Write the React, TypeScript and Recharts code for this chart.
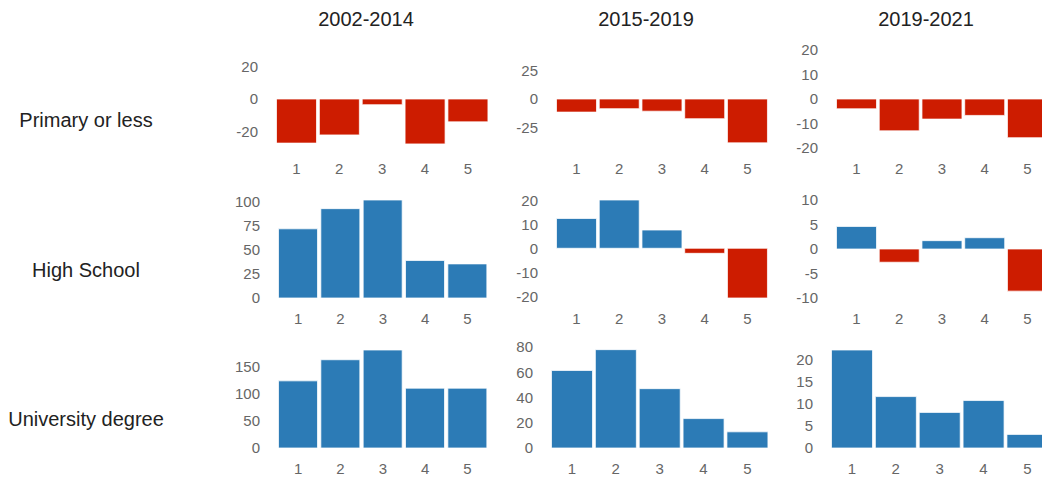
import React from 'react';
import { BarChart, Bar, XAxis, YAxis, Cell } from 'recharts';

// Categories and labels
const categories = ['1', '2', '3', '4', '5'];
const periods = ['2002-2014', '2015-2019', '2019-2021'];
const levels = ['Primary or less', 'High School', 'University degree'];

// Values per education level and period
const primary2002 = [-27, -22, -3.5, -27.5, -14];
const primary2015 = [-11.5, -8.5, -10.7, -17.3, -38.5];
const primary2019 = [-4, -13, -8.2, -6.7, -15.8];

const high2002 = [72, 93, 102, 39, 35.5];
const high2015 = [12.4, 20.1, 7.6, -2.1, -20.7];
const high2019 = [4.6, -2.7, 1.7, 2.3, -8.6];

const uni2002 = [124, 163, 181, 110.5, 110.5];
const uni2015 = [61.4, 77.9, 47, 23.3, 12.8];
const uni2019 = [22.3, 11.7, 8.1, 10.8, 3.1];

// Tick labels per panel
const ticksP2002 = [-20, 0, 20];
const ticksP2015 = [-25, 0, 25];
const ticksP2019 = [-20, -10, 0, 10, 20];
const ticksH2002 = [0, 25, 50, 75, 100];
const ticksH2015 = [-20, -10, 0, 10, 20];
const ticksH2019 = [-10, -5, 0, 5, 10];
const ticksU2002 = [0, 50, 100, 150];
const ticksU2015 = [0, 20, 40, 60, 80];
const ticksU2019 = [0, 5, 10, 15, 20];

const BLUE = '#2c7bb6';
const RED = '#cd1c00';
const FONT = '"Liberation Sans", Arial, Helvetica, sans-serif';

const AXIS_W = 60;
const TOP_PAD = 12;
const X_H = 30;
const RIGHT_EDGE = [489, 769, 1049];

type PanelProps = {
  values: number[];
  domain: [number, number];
  ticks: number[];
  col: number;
  left: number;
  top: number;
  bottom: number;
};

const Panel = ({ values, domain, ticks, col, left, top, bottom }: PanelProps) => {
  const data = categories.map((c, i) => ({ name: c, value: values[i] }));
  const plotW = RIGHT_EDGE[col] - left;
  const plotH = bottom - top;
  return (
    <div style={{ position: 'absolute', left: left - AXIS_W, top: top - TOP_PAD }}>
      <BarChart
        width={AXIS_W + plotW + 4}
        height={TOP_PAD + plotH + X_H}
        data={data}
        margin={{ top: TOP_PAD, right: 4, bottom: 0, left: 0 }}
        barCategoryGap={1.5}
      >
        <XAxis
          dataKey="name"
          axisLine={false}
          tickLine={false}
          tickSize={0}
          tickMargin={15}
          height={X_H}
          interval={0}
          tick={{ fill: '#666', fontSize: 15, fontFamily: FONT }}
        />
        <YAxis
          type="number"
          domain={domain}
          ticks={ticks}
          allowDataOverflow
          axisLine={false}
          tickLine={false}
          tickSize={0}
          tickMargin={17}
          width={AXIS_W}
          interval={0}
          tick={{ fill: '#666', fontSize: 15, fontFamily: FONT }}
        />
        <Bar dataKey="value" isAnimationActive={false} stroke="#ffffff" strokeWidth={1} strokeOpacity={0.75}>
          {data.map((d, i) => (
            <Cell key={`c-${i}`} fill={d.value < 0 ? RED : BLUE} />
          ))}
        </Bar>
      </BarChart>
    </div>
  );
};

const textStyle: React.CSSProperties = {
  position: 'absolute',
  fontFamily: FONT,
  fontSize: 20,
  lineHeight: '20px',
  color: '#222',
  whiteSpace: 'nowrap',
  textAlign: 'center',
  width: 200,
};

const titleX = [366, 646, 926];
const rowY = [109.5, 259.5, 408.5];

const App = () => {
  return (
    <div
      style={{
        position: 'fixed',
        left: 0,
        top: 0,
        width: 1042,
        height: 477,
        overflow: 'hidden',
        background: '#fff',
      }}
    >
      {periods.map((p, i) => (
        <div key={p} style={{ ...textStyle, left: titleX[i] - 100, top: 9 }}>
          {p}
        </div>
      ))}
      {levels.map((l, i) => (
        <div key={l} style={{ ...textStyle, left: 86 - 100, top: rowY[i] }}>
          {l}
        </div>
      ))}

      <Panel values={primary2002} domain={[-30, 30]} ticks={ticksP2002} col={0} left={274.7} top={50} bottom={148} />
      <Panel values={primary2015} domain={[-43, 43]} ticks={ticksP2015} col={1} left={555.3} top={50} bottom={148} />
      <Panel values={primary2019} domain={[-20, 20]} ticks={ticksP2019} col={2} left={835.3} top={50} bottom={148} />

      <Panel values={high2002} domain={[0, 102]} ticks={ticksH2002} col={0} left={277.3} top={200} bottom={298} />
      <Panel values={high2015} domain={[-20.7, 20.1]} ticks={ticksH2015} col={1} left={555.3} top={200} bottom={298} />
      <Panel values={high2019} domain={[-10, 10]} ticks={ticksH2019} col={2} left={835.3} top={200} bottom={298} />

      <Panel values={uni2002} domain={[0, 181]} ticks={ticksU2002} col={0} left={277.3} top={350} bottom={448} />
      <Panel values={uni2015} domain={[0, 80]} ticks={ticksU2015} col={1} left={549.7} top={347} bottom={448} />
      <Panel values={uni2019} domain={[0, 22.3]} ticks={ticksU2019} col={2} left={829.7} top={350} bottom={448} />
    </div>
  );
};

export default App;
